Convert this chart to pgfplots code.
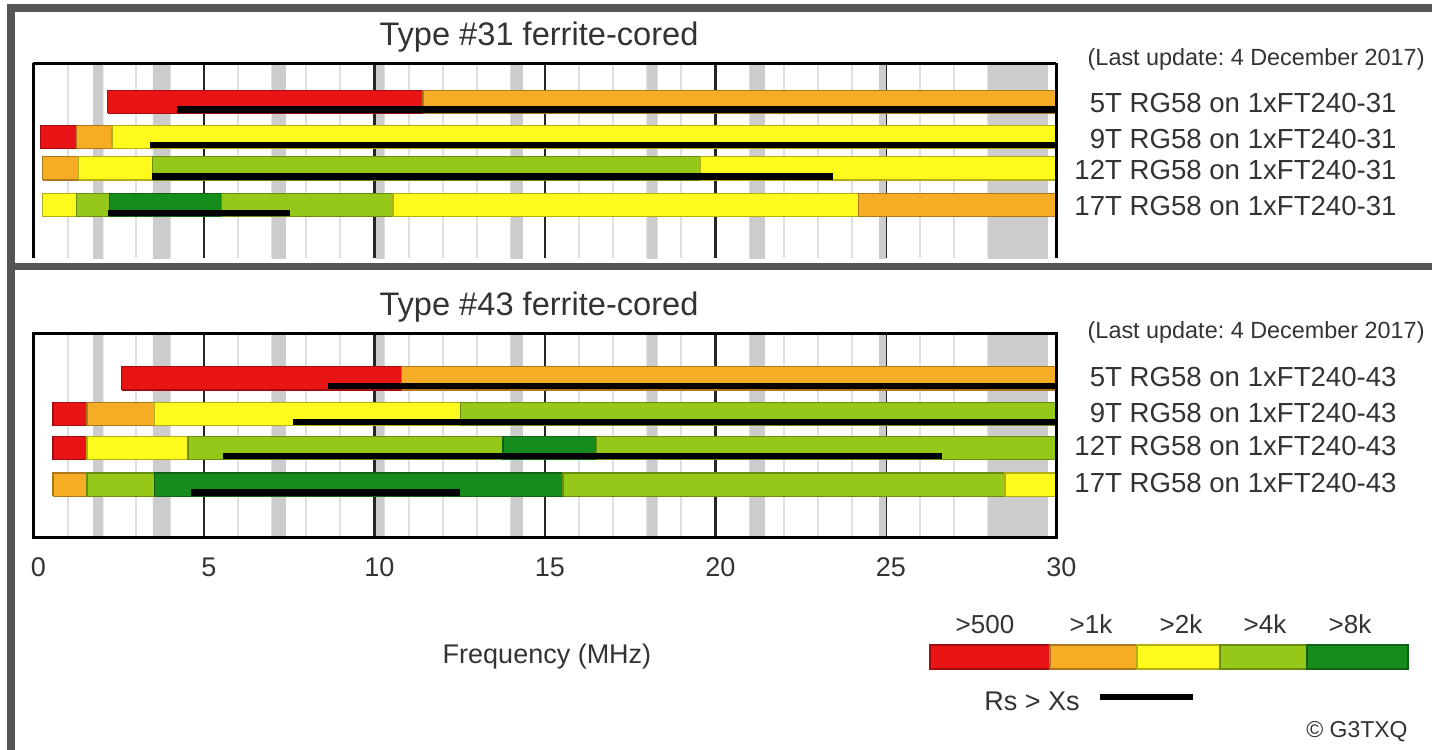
\documentclass[border=0pt]{standalone}
\usepackage{pgfplots}
\pgfplotsset{compat=1.18}
\usepackage{fontspec}
\setmainfont{Liberation Sans}
\frenchspacing

\definecolor{cRed}{RGB}{232,20,22}
\definecolor{cOrange}{RGB}{247,172,38}
\definecolor{cYellow}{RGB}{255,250,30}
\definecolor{cLgreen}{RGB}{150,200,25}
\definecolor{cDgreen}{RGB}{22,140,28}
\definecolor{band}{RGB}{204,204,204}
\definecolor{minorgrid}{RGB}{224,224,224}
\definecolor{frame}{RGB}{85,85,85}
\definecolor{txt}{RGB}{51,51,51}

% one coloured segment of a row: x0, x1, row centre, colour
\newcommand{\seg}[4]{%
  \pgfmathsetmacro\ylo{#3-0.34}\pgfmathsetmacro\yhi{#3+0.34}%
  \addplot[fill=#4, draw=#4!70!black, line width=0.6pt]
    coordinates {(#1,\ylo) (#2,\ylo) (#2,\yhi) (#1,\yhi) (#1,\ylo)};}
% Rs > Xs range: x0, x1, row centre
\newcommand{\rsx}[3]{%
  \pgfmathsetmacro\yb{#3-0.23}%
  \addplot[black, line width=3.3pt] coordinates {(#1,\yb) (#2,\yb)};}
% amateur band (grey stripe)
\newcommand{\band}[2]{%
  \addplot[fill=band, draw=none] coordinates {(#1,-1) (#2,-1) (#2,7) (#1,7) (#1,-1)};}
\newcommand{\bands}{%
  \band{1.75}{2.05} \band{3.5}{4.0} \band{7.0}{7.4} \band{10.05}{10.3}
  \band{14.0}{14.35} \band{18.0}{18.3} \band{21.0}{21.45} \band{24.8}{25.0}
  \band{28.0}{29.75}}

\pgfplotsset{
  box/.style={
    scale only axis, width=511.5pt,
    xmin=0, xmax=30, ymax=6,
    axis line style={-, black, line width=1.5pt},
  },
  panel/.style={box,
    xtick={0,5,...,30}, minor xtick={1,...,29},
    major tick length=0pt, minor tick length=0pt,
    xmajorgrids=true, xminorgrids=true,
    major grid style={black!85, line width=1.1pt},
    minor grid style={minorgrid, line width=1pt},
    yticklabel pos=right,
    yticklabel style={font=\fontsize{13.8}{16}\selectfont, text=txt,
      anchor=base east, inner sep=0pt, xshift=170.25pt},
  },
  % frame only, drawn again over the bars
  frameonly/.style={box, ticks=none},
}

\begin{document}
\begin{tikzpicture}
\path[use as bounding box] (0,0) rectangle (716pt,-375pt);

% ---- type 31 ----
\begin{axis}[panel,
  at={(16.75pt,-31.5pt)}, anchor=north west, height=97.5pt,
  ymin=0.265,
  axis x line=top, axis y line=box,
  x axis line style={-},
  xticklabels={},
  ytick={4.863,3.819,2.90,1.824},
  yticklabels={5T RG58 on 1xFT240-31, 9T RG58 on 1xFT240-31,
    12T RG58 on 1xFT240-31, 17T RG58 on 1xFT240-31},
  yticklabel style={yshift=-5.5pt},
]
\bands
% 5T
\seg{2.18}{11.42}{4.863}{cRed} \seg{11.42}{30}{4.863}{cOrange}
\rsx{4.2}{30}{4.863}
% 9T
\seg{0.21}{1.25}{3.819}{cRed} \seg{1.25}{2.3}{3.819}{cOrange}
\seg{2.3}{30}{3.819}{cYellow}
\rsx{3.42}{30}{3.819}
% 12T
\seg{0.27}{1.31}{2.90}{cOrange} \seg{1.31}{3.5}{2.90}{cYellow}
\seg{3.5}{19.55}{2.90}{cLgreen} \seg{19.55}{30}{2.90}{cYellow}
\rsx{3.47}{23.45}{2.90}
% 17T
\seg{0.27}{1.27}{1.824}{cYellow} \seg{1.27}{2.22}{1.824}{cLgreen}
\seg{2.22}{5.52}{1.824}{cDgreen} \seg{5.52}{10.54}{1.824}{cLgreen}
\seg{10.54}{24.2}{1.824}{cYellow} \seg{24.2}{30}{1.824}{cOrange}
\rsx{2.19}{7.52}{1.824}
\end{axis}
\begin{axis}[frameonly,
  at={(16.75pt,-31.5pt)}, anchor=north west, height=97.5pt,
  ymin=0.265,
  axis x line=top, axis y line=box, x axis line style={-},
]
\end{axis}

% ---- type 43 ----
\begin{axis}[panel,
  at={(16.75pt,-166.5pt)}, anchor=north west, height=102pt,
  ymin=0,
  ytick={4.666,3.613,2.618,1.54},
  yticklabels={5T RG58 on 1xFT240-43, 9T RG58 on 1xFT240-43,
    12T RG58 on 1xFT240-43, 17T RG58 on 1xFT240-43},
  yticklabel style={yshift=-4pt},
  xticklabel style={font=\fontsize{13.5}{16}\selectfont, text=txt,
    yshift=-7pt, xshift=2.5pt},
  /pgf/number format/assume math mode=true,
]
\bands
% 5T
\seg{2.59}{10.8}{4.666}{cRed} \seg{10.8}{30}{4.666}{cOrange}
\rsx{8.64}{30}{4.666}
% 9T
\seg{0.57}{1.57}{3.613}{cRed} \seg{1.57}{3.56}{3.613}{cOrange}
\seg{3.56}{12.53}{3.613}{cYellow} \seg{12.53}{30}{3.613}{cLgreen}
\rsx{7.61}{30}{3.613}
% 12T
\seg{0.57}{1.57}{2.618}{cRed} \seg{1.57}{4.53}{2.618}{cYellow}
\seg{4.53}{13.77}{2.618}{cLgreen} \seg{13.77}{16.52}{2.618}{cDgreen}
\seg{16.52}{30}{2.618}{cLgreen}
\rsx{5.55}{26.64}{2.618}
% 17T
\seg{0.57}{1.57}{1.54}{cOrange} \seg{1.57}{3.56}{1.54}{cLgreen}
\seg{3.56}{15.53}{1.54}{cDgreen} \seg{15.53}{28.49}{1.54}{cLgreen}
\seg{28.49}{30}{1.54}{cYellow}
\rsx{4.61}{12.5}{1.54}
\end{axis}
\begin{axis}[frameonly,
  at={(16.75pt,-166.5pt)}, anchor=north west, height=102pt, ymin=0,
]
\end{axis}

% ---- frame, titles, legend (coordinates in image pixels) ----
\begin{scope}[x=0.5pt, y=-0.5pt, text=txt]
\draw[frame, line width=3.6pt, line join=miter] (11,752) -- (11,8) -- (1434,8);
\draw[frame, line width=3.6pt] (11,266.5) -- (1434,266.5);

\node[anchor=base, font=\fontsize{16.3}{19}\selectfont] at (539,45) {Type \#31 ferrite-cored};
\node[anchor=base, font=\fontsize{16.3}{19}\selectfont] at (539,315) {Type \#43 ferrite-cored};
\node[anchor=base east, inner sep=0pt, font=\fontsize{11.7}{14}\selectfont] at (1425,65) {(Last update: 4 December 2017)};
\node[anchor=base east, inner sep=0pt, font=\fontsize{11.7}{14}\selectfont] at (1425,338) {(Last update: 4 December 2017)};
\node[anchor=base, font=\fontsize{13.5}{16}\selectfont] at (547,663) {Frequency (MHz)};

\foreach \lab/\xx in {{>500}/985, {>1k}/1091, {>2k}/1181, {>4k}/1265, {>8k}/1350}
  \node[anchor=base, font=\fontsize{13}{15}\selectfont] at (\xx,633) {\lab};
\foreach \xa/\xb/\cc in {930/1050/cRed, 1050/1137/cOrange, 1137/1220/cYellow,
                         1220/1307/cLgreen, 1307/1408/cDgreen}
  \filldraw[fill=\cc, draw=\cc!70!black, line width=0.6pt] (\xa,645) rectangle (\xb,669);
\node[anchor=base, font=\fontsize{13.5}{16}\selectfont] at (1032,710) {Rs > Xs};
\draw[black, line width=3pt] (1100,697) -- (1193,697);
\node[anchor=base east, inner sep=0pt, font=\fontsize{11.5}{14}\selectfont] at (1408,737) {© G3TXQ};
\end{scope}
\end{tikzpicture}
\end{document}
